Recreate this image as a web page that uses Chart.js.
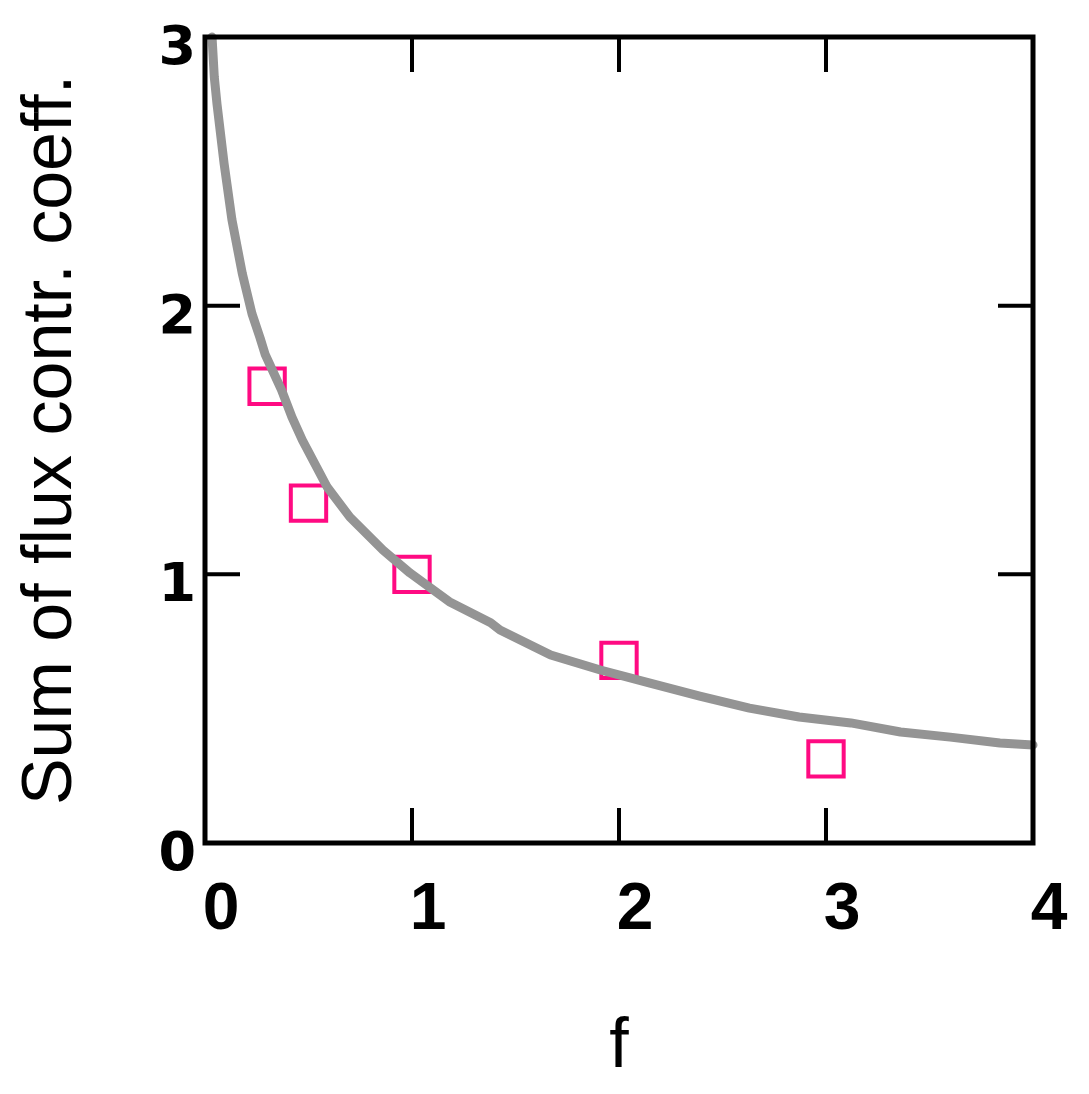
<!DOCTYPE html>
<html>
<head>
<meta charset="utf-8">
<title>Sum of flux control coefficients</title>
<script src="https://cdn.jsdelivr.net/npm/chart.js@4.4.1/dist/chart.umd.min.js"></script>
<style>
  html, body { margin: 0; padding: 0; background: #fff; }
  #wrap { width: 1089px; height: 1094px; }
</style>
</head>
<body>
<div id="wrap"><canvas id="fluxChart" width="1089" height="1094"></canvas></div>
<script>
// model curve
const curveF = [0.034, 0.045, 0.058, 0.092, 0.13, 0.18, 0.227, 0.266, 0.29, 0.37, 0.42, 0.47, 0.59, 0.70, 0.86, 0.99,
  1.18, 1.38, 1.425, 1.67, 1.91, 2.15, 2.39, 2.63, 2.87, 3.12, 3.36, 3.60, 3.84, 4.0];
const curveSum = [3.0, 2.85, 2.75, 2.53, 2.32, 2.12, 1.97, 1.88, 1.82, 1.686, 1.585, 1.50, 1.325, 1.213, 1.09, 1.005,
  0.898, 0.82, 0.793, 0.70, 0.644, 0.595, 0.547, 0.502, 0.469, 0.447, 0.413, 0.394, 0.372, 0.365];

// measured points (open squares)
const pointF = [0.30, 0.50, 1.0, 2.0, 3.0];
const pointSum = [1.70, 1.265, 1.0, 0.68, 0.313];

const xTicks = [0, 1, 2, 3, 4];
const yTicks = [0, 1, 2, 3];

const curveData = curveF.map((f, i) => ({ x: f, y: curveSum[i] }));
const pointData = pointF.map((f, i) => ({ x: f, y: pointSum[i] }));

// frame on all four sides + inward tick marks
const framePlugin = {
  id: "frame",
  afterDatasetsDraw(chart) {
    const { ctx, chartArea: a, scales } = chart;
    const len = 35;
    ctx.save();
    ctx.strokeStyle = "#000";
    ctx.lineWidth = 5;
    ctx.lineCap = "square";
    ctx.strokeRect(a.left, a.top, a.right - a.left, a.bottom - a.top);
    ctx.lineWidth = 4;
    ctx.lineCap = "butt";
    ctx.beginPath();
    xTicks.forEach(v => {
      const px = scales.x.getPixelForValue(v);
      ctx.moveTo(px, a.bottom); ctx.lineTo(px, a.bottom - len);
      ctx.moveTo(px, a.top); ctx.lineTo(px, a.top + len);
    });
    yTicks.forEach(v => {
      const py = scales.y.getPixelForValue(v);
      ctx.moveTo(a.left, py); ctx.lineTo(a.left + len, py);
      ctx.moveTo(a.right, py); ctx.lineTo(a.right - len, py);
    });
    ctx.stroke();
    ctx.restore();
  }
};

const ctx = document.getElementById("fluxChart").getContext("2d");
new Chart(ctx, {
  type: "scatter",
  data: {
    datasets: [
      {
        label: "model",
        data: curveData,
        showLine: true,
        borderColor: "#949494",
        borderWidth: 9,
        borderCapStyle: "round",
        borderJoinStyle: "round",
        pointRadius: 0,
        tension: 0,
        order: 0
      },
      {
        label: "measured",
        data: pointData,
        pointStyle: "rect",
        pointRadius: 25,
        pointBorderWidth: 4,
        pointBorderColor: "#ff0a82",
        pointBackgroundColor: "rgba(255,255,255,0)",
        order: 1
      }
    ]
  },
  options: {
    responsive: false,
    animation: false,
    clip: false,
    layout: { padding: { top: 37, right: 56, left: 0, bottom: 0 } },
    plugins: { legend: { display: false }, tooltip: { enabled: false } },
    scales: {
      x: {
        type: "linear",
        min: 0, max: 4,
        afterBuildTicks: s => { s.ticks = xTicks.map(v => ({ value: v })); },
        afterFit: s => { s.height = 251; },
        grid: { display: false, drawTicks: false },
        border: { display: false },
        ticks: {
          color: "#000",
          padding: 28,
          labelOffset: 16,
          font: { family: "'Liberation Sans', Arial, sans-serif", size: 66, weight: "bold" }
        },
        title: {
          display: true,
          text: "f",
          color: "#000",
          padding: { top: 0, bottom: 4 },
          font: { family: "'Liberation Sans', Arial, sans-serif", size: 70 }
        }
      },
      y: {
        type: "linear",
        min: 0, max: 3,
        afterBuildTicks: s => { s.ticks = yTicks.map(v => ({ value: v })); },
        afterFit: s => { s.width = 205; },
        grid: { display: false, drawTicks: false },
        border: { display: false },
        ticks: {
          color: "#000",
          padding: 9,
          labelOffset: 13,
          font: { family: "'DejaVu Sans', sans-serif", size: 54, weight: "bold", lineHeight: 1 }
        },
        title: {
          display: true,
          text: "Sum of flux contr. coeff.",
          color: "#000",
          padding: { top: 10, bottom: 0 },
          font: { family: "'Liberation Sans', Arial, sans-serif", size: 70 }
        }
      }
    }
  },
  plugins: [framePlugin]
});
</script>
</body>
</html>
